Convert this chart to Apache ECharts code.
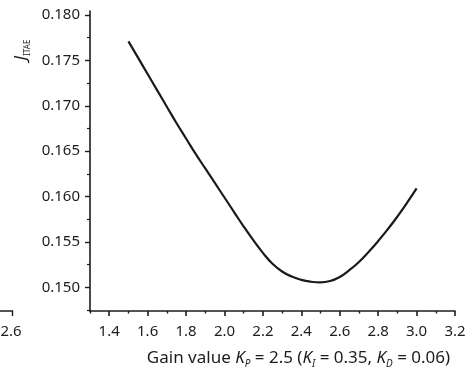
<!DOCTYPE html>
<html>
<head>
<meta charset="utf-8">
<script src="https://cdn.jsdelivr.net/npm/echarts@6/dist/echarts.min.js"></script>
<style>
html,body{margin:0;padding:0;background:#fff;}
#chart{width:470px;height:371px;}
</style>
</head>
<body>
<div id="chart"></div>
<script>
// ---- data ----
const gainKp = [1.50,1.55,1.60,1.65,1.70,1.75,1.80,1.85,1.90,1.95,2.00,2.05,2.10,2.15,2.20,2.25,2.30,2.35,2.40,2.45,2.50,2.55,2.60,2.65,2.70,2.75,2.80,2.85,2.90,2.95,3.00];
const jItae  = [0.1771,0.1753,0.1735,0.1717,0.1699,0.1681,0.1664,0.1647,0.1631,0.1615,0.1599,0.1583,0.1567,0.1552,0.1538,0.1526,0.15175,0.1512,0.15083,0.15062,0.15055,0.1507,0.15115,0.1519,0.1528,0.1539,0.1551,0.1564,0.1578,0.1593,0.1609];
const xTickValues = [1.4,1.6,1.8,2.0,2.2,2.4,2.6,2.8,3.0,3.2];
const xMinorTicks = [1.3,1.5,1.7,1.9,2.1,2.3,2.5,2.7,2.9,3.1];
const yTickValues = [0.150,0.155,0.160,0.165,0.170,0.175,0.180];
const yMinorTicks = [0.1475,0.1525,0.1575,0.1625,0.1675,0.1725,0.1775];
const strayTickLabel = '2.6';

const FONT = '"Noto Sans", "Open Sans", sans-serif';
const INK = '#1f1b1c';
const FS = 15;

const chart = echarts.init(document.getElementById('chart'), null, {renderer:'canvas'});
const seriesData = gainKp.map((x,i)=>[x, jItae[i]]);

const baseX = {
  type:'value', min:1.3, max:3.2, gridIndex:0, position:'bottom',
  splitLine:{show:false}
};
const baseY = {
  type:'value', min:0.1474, max:0.18044, gridIndex:0, position:'left',
  splitLine:{show:false}
};

chart.setOption({
  animation:false,
  backgroundColor:'#fff',
  grid:{left:90, right:15, top:11, bottom:60, containLabel:false, outerBoundsMode:'none'},
  xAxis:[
    Object.assign({}, baseX, {
      axisLine:{show:true, lineStyle:{color:INK, width:1.6}},
      axisTick:{show:true, inside:false, length:5, customValues:xTickValues, lineStyle:{color:INK, width:1.6}},
      axisLabel:{show:true, customValues:xTickValues, margin:13, color:INK, fontSize:FS, fontFamily:FONT,
        formatter:v=>Number(v).toFixed(1)},
      name:'Gain value {k|K}{s|P} = 2.5 ({k|K}{s|I} = 0.35, {k|K}{s|D} = 0.06)',
      nameLocation:'middle', nameGap:36,
      nameTextStyle:{color:INK, fontSize:17, fontFamily:FONT, lineHeight:22, padding:[0,0,0,52],
        rich:{
          k:{fontStyle:'italic', fontSize:17, fontFamily:FONT, color:INK, lineHeight:22},
          s:{fontStyle:'italic', fontSize:10, fontFamily:FONT, color:INK, lineHeight:22, verticalAlign:'bottom'}
        }}
    }),
    Object.assign({}, baseX, {
      axisLine:{show:false},
      axisTick:{show:true, inside:false, length:2.5, customValues:xMinorTicks, lineStyle:{color:INK, width:1.4}},
      axisLabel:{show:false}
    })
  ],
  yAxis:[
    Object.assign({}, baseY, {
      axisLine:{show:true, lineStyle:{color:INK, width:1.6}},
      axisTick:{show:true, inside:false, length:5, customValues:yTickValues, lineStyle:{color:INK, width:1.4}},
      axisLabel:{show:true, customValues:yTickValues, margin:10, color:INK, fontSize:FS, fontFamily:FONT,
        formatter:v=>Number(v).toFixed(3)}
    }),
    Object.assign({}, baseY, {
      axisLine:{show:false},
      axisTick:{show:true, inside:false, length:3, customValues:yMinorTicks, lineStyle:{color:INK, width:1.2}},
      axisLabel:{show:false}
    })
  ],
  graphic:[
    {
      type:'text', x:21, y:50, rotation:Math.PI/2,
      style:{
        text:'{j|J}{s|ITAE}',
        textAlign:'center', textVerticalAlign:'middle', align:'center', verticalAlign:'middle',
        fill:INK,
        rich:{
          j:{fontStyle:'italic', fontSize:17, fontFamily:FONT, fill:INK, lineHeight:22},
          s:{fontSize:8, fontFamily:FONT, fill:INK, lineHeight:22, verticalAlign:'bottom'}
        }
      }
    },
    {
      type:'polyline', shape:{points:[[0,311],[12.5,311],[12.5,316]]},
      style:{stroke:INK, lineWidth:1.4, fill:null}
    },
    {
      type:'text', x:11, y:332,
      style:{text:strayTickLabel, font:FS+'px '+FONT, fill:INK,
        textAlign:'center', textVerticalAlign:'middle', align:'center', verticalAlign:'middle'}
    }
  ],
  series:[{
    type:'line', xAxisIndex:0, yAxisIndex:0,
    data:seriesData, smooth:true, showSymbol:false, symbol:'none',
    lineStyle:{color:'#1a1a1a', width:2.2}
  }]
});
</script>
</body>
</html>
